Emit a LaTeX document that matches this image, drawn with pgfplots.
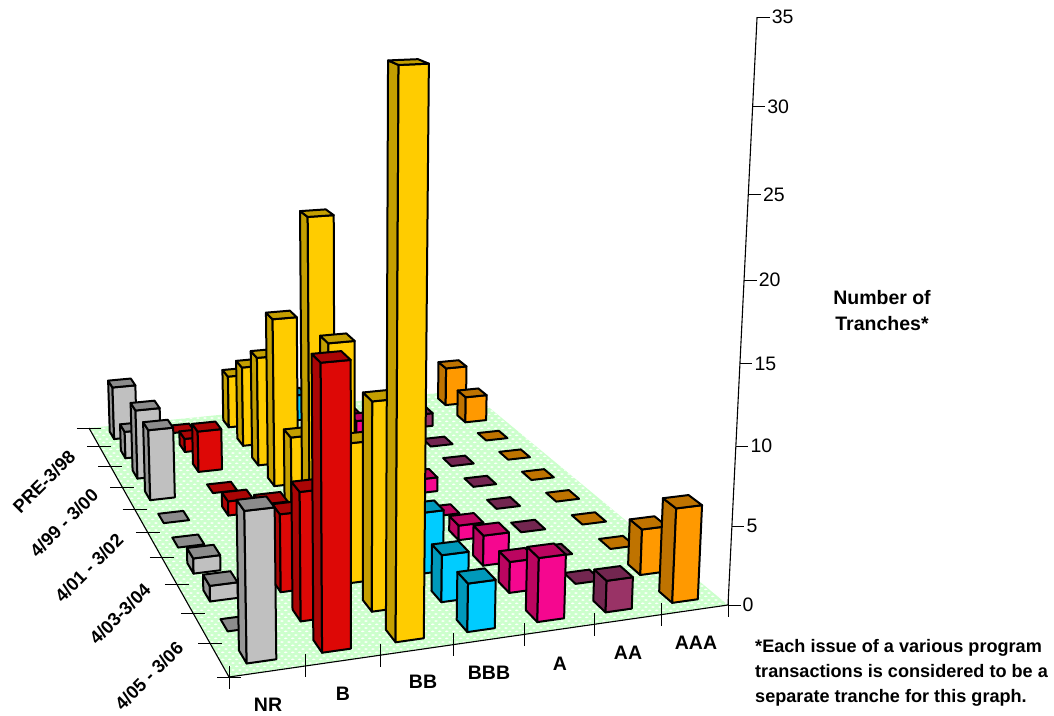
\documentclass[border=0pt]{standalone}
\usepackage{fontspec}
\setmainfont{Liberation Sans}
\usepackage{pgfplots}
\usepackage{pgfplotstable}
\pgfplotsset{compat=1.18}
\usetikzlibrary{patterns}

% Tranche counts by rating (columns) and issue period (rows, oldest first).
\pgfplotstableread{
NR B BB BBB A AA AAA
4  0  4 2 0 0 3
2  1  6 0 1 1 2
5  3  8 0 0 0 0
5  0 12 0 0 0 0
0  1  5 0 1 0 0
0  0 21 0 0 0 0
1  4 14 0 1 0 0
1  5  9 4 2 0 0
0  8 13 3 2 0 3
9 17 33 3 4 2 6
}\tranches

\definecolor{front0}{HTML}{C0C0C0}\definecolor{side0}{HTML}{969696}\definecolor{top0}{HTML}{8C8C8C}
\definecolor{front1}{HTML}{DD0806}\definecolor{side1}{HTML}{AB0505}\definecolor{top1}{HTML}{AB0505}
\definecolor{front2}{HTML}{FFCC00}\definecolor{side2}{HTML}{C49F00}\definecolor{top2}{HTML}{C49F00}
\definecolor{front3}{HTML}{00CCFF}\definecolor{side3}{HTML}{0099BB}\definecolor{top3}{HTML}{0099BB}
\definecolor{front4}{HTML}{F5078F}\definecolor{side4}{HTML}{BB0560}\definecolor{top4}{HTML}{BB0560}
\definecolor{front5}{HTML}{993366}\definecolor{side5}{HTML}{732650}\definecolor{top5}{HTML}{732650}
\definecolor{front6}{HTML}{FF9900}\definecolor{side6}{HTML}{BF7300}\definecolor{top6}{HTML}{BF7300}
\definecolor{floorgreen}{HTML}{CCFFCC}

% Staggered flat white dots on the floor.
\pgfdeclarepatternformonly{floordots}{\pgfpointorigin}{\pgfqpoint{6.8pt}{6.8pt}}{\pgfqpoint{6.8pt}{6.8pt}}{%
  \pgfpathellipse{\pgfqpoint{1.7pt}{1.7pt}}{\pgfqpoint{2pt}{0pt}}{\pgfqpoint{0pt}{0.9pt}}%
  \pgfpathellipse{\pgfqpoint{5.1pt}{5.1pt}}{\pgfqpoint{2pt}{0pt}}{\pgfqpoint{0pt}{0.9pt}}%
  \pgfusepath{fill}}

% Perspective projection: rating position, period position, count -> page position.
\newcommand\proj[5]{%
  \pgfmathsetmacro\pS{#1/7}%
  \pgfmathsetmacro\pT{#2/10}%
  \pgfmathsetmacro\pW{1+0.09113*\pS+0.37914*\pT-#3/441.4}%
  \pgfmathsetmacro#4{(565.34*\pS-106.26*\pT+229-0.8097*#3)/\pW}%
  \pgfmathsetmacro#5{(-16.87*\pS-86.73*\pT+677-18.365*#3)/\pW}%
}

\pgfplotsset{barface/.style={draw=black,line width=2pt,line join=round,forget plot}}

% One column of the chart: rating index, period index, count.
\newcommand\drawbar[3]{%
  \pgfmathsetmacro\ul{#1+0.305}\pgfmathsetmacro\ur{#1+0.695}%
  \pgfmathsetmacro\vf{#2+0.3}\pgfmathsetmacro\vb{#2+0.7}%
  \proj{\ul}{\vf}{0}\ax\ay \proj{\ur}{\vf}{0}\bx\by \proj{\ul}{\vb}{0}\dx\dy
  \proj{\ul}{\vf}{#3}\Ax\Ay \proj{\ur}{\vf}{#3}\Bx\By
  \proj{\ur}{\vb}{#3}\Cx\Cy \proj{\ul}{\vb}{#3}\Dx\Dy
  \ifnum#3>0
    \edef\temp{\noexpand\addplot[barface,fill=side#1] coordinates {(\dx,\dy)(\ax,\ay)(\Ax,\Ay)(\Dx,\Dy)} -- cycle;}\temp
    \edef\temp{\noexpand\addplot[barface,fill=front#1] coordinates {(\ax,\ay)(\bx,\by)(\Bx,\By)(\Ax,\Ay)} -- cycle;}\temp
  \fi
  \edef\temp{\noexpand\addplot[barface,fill=top#1] coordinates {(\Ax,\Ay)(\Bx,\By)(\Cx,\Cy)(\Dx,\Dy)} -- cycle;}\temp
}

\newcommand\labelfont{\fontsize{19.5}{22}\selectfont}
\newcommand\boldlabel{\fontsize{19.5}{26}\selectfont\bfseries}
\newcommand\slantlabel{\fontsize{18.3}{20}\selectfont\bfseries}
\newcommand\notefont{\fontsize{18.1}{25}\selectfont\bfseries}

\begin{document}
\begin{tikzpicture}
\path[use as bounding box] (0,0) rectangle (1054pt,715pt);
\begin{axis}[
  at={(0,0)},anchor=south west,
  scale only axis,width=1054pt,height=715pt,
  xmin=0,xmax=1054,ymin=0,ymax=715,y dir=reverse,
  hide axis,clip=false]

% floor
\proj{0}{0}{0}\ax\ay \proj{7}{0}{0}\bx\by \proj{7}{10}{0}\cx\cy \proj{0}{10}{0}\dx\dy
\edef\floorpts{(\ax,\ay)(\bx,\by)(\cx,\cy)(\dx,\dy)}
\edef\temp{\noexpand\addplot[draw=none,fill=floorgreen,forget plot] coordinates {\floorpts} -- cycle;}\temp
\edef\temp{\noexpand\addplot[draw=none,pattern=floordots,pattern color=white,forget plot] coordinates {\floorpts} -- cycle;}\temp

% floor edges
\edef\temp{\noexpand\addplot[black,line width=1.1pt,forget plot] coordinates {(\dx,\dy)(\ax,\ay)(\bx,\by)};}\temp

% rating ticks along the front edge
\pgfplotsforeachungrouped \j in {0,...,7}{%
  \proj{\j}{0}{0}\qx\qy
  \pgfmathsetmacro\qa{\qy-11.5}\pgfmathsetmacro\qb{\qy+11.5}%
  \edef\temp{\noexpand\addplot[black,line width=0.9pt,forget plot] coordinates {(\qx,\qa)(\qx,\qb)};}\temp
}
% period ticks along the left edge
\pgfplotsforeachungrouped \j in {0,...,10}{%
  \proj{0}{\j}{0}\qx\qy
  \pgfmathsetmacro\qa{\qx-12}\pgfmathsetmacro\qb{\qx+12}%
  \edef\temp{\noexpand\addplot[black,line width=0.9pt,forget plot] coordinates {(\qa,\qy)(\qb,\qy)};}\temp
}
% count axis with ticks
\proj{7}{0}{0}\zax\zay \proj{7}{0}{35}\zbx\zby
\edef\temp{\noexpand\addplot[black,line width=1.1pt,forget plot] coordinates {(\zax,\zay)(\zbx,\zby)};}\temp
\pgfplotsforeachungrouped \j in {0,5,...,35}{%
  \proj{7}{0}{\j}\qx\qy
  \pgfmathsetmacro\qb{\qx+12.5}\pgfmathsetmacro\qc{\qx+14.5}%
  \edef\temp{\noexpand\addplot[black,line width=0.9pt,forget plot] coordinates {(\qx,\qy)(\qb,\qy)};}\temp
  \edef\temp{\noexpand\node[anchor=west,inner sep=0pt,font=\noexpand\labelfont] at (axis cs:\qc,\qy) {\j};}\temp
}

% columns, painted from the far corner to the near one
\pgfplotsforeachungrouped \i in {0,...,9}{%
  \pgfmathtruncatemacro\depth{9-\i}%
  \pgfplotsforeachungrouped \k in {6,5,4,3,2,1,0}{%
    \pgfplotstablegetelem{\i}{[index]\k}\of\tranches
    \edef\val{\pgfplotsretval}%
    \drawbar{\k}{\depth}{\val}%
  }%
}

% category names
\node[font=\boldlabel] at (axis cs:268,705) {NR};
\node[font=\boldlabel] at (axis cs:343,694) {B};
\node[font=\boldlabel] at (axis cs:423,682) {BB};
\node[font=\boldlabel] at (axis cs:489,673) {BBB};
\node[font=\boldlabel] at (axis cs:560,664) {A};
\node[font=\boldlabel] at (axis cs:628,653) {AA};
\node[font=\boldlabel] at (axis cs:696,643) {AAA};

% period names
\node[font=\slantlabel,rotate=45] at (axis cs:44,482) {PRE-3/98};
\node[font=\slantlabel,rotate=45] at (axis cs:64,523) {4/99 - 3/00};
\node[font=\slantlabel,rotate=45] at (axis cs:89,568) {4/01 - 3/02};
\node[font=\slantlabel,rotate=45] at (axis cs:120,614) {4/03-3/04};
\node[font=\slantlabel,rotate=45] at (axis cs:149,676) {4/05 - 3/06};

% axis caption and footnote
\node[font=\boldlabel,align=center] at (axis cs:882,311) {Number of\\Tranches*};
\node[font=\notefont,align=left,anchor=north west,inner sep=0pt] at (axis cs:755,639)
  {*Each issue of a various program\\transactions is considered to be a\\separate tranche for this graph.};
\end{axis}
\end{tikzpicture}
\end{document}
